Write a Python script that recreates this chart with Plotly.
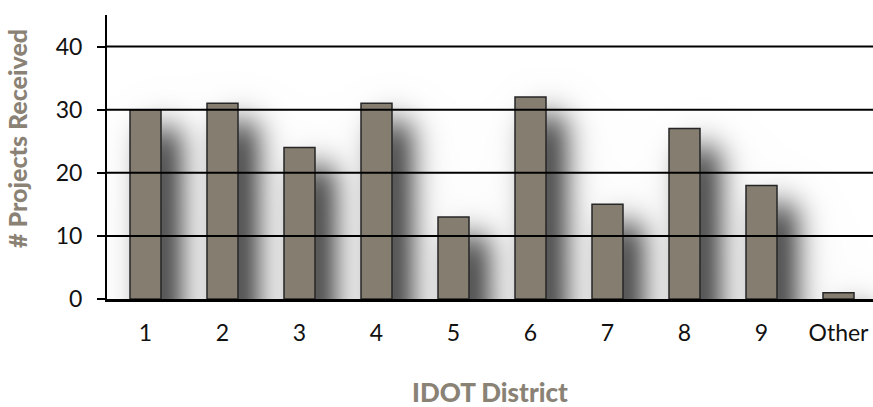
import math
import numpy as np
import plotly.graph_objects as go

# Projects received per IDOT district
districts = ["1", "2", "3", "4", "5", "6", "7", "8", "9", "Other"]
projects = [30, 31, 24, 31, 13, 32, 15, 27, 18, 1]
y_ticks = [0, 10, 20, 30, 40]

W, H = 873, 407
M_L, M_R, M_T, M_B = 107, 0, 15, 108
X_RANGE = [-0.5, 9.448]
Y_RANGE = [0, 45]
BAR_W = 0.4026

BAR_FILL = "#857d6f"
BAR_EDGE = "#262626"
TITLE_COLOR = "#8a8275"

plot_w = W - M_L - M_R
plot_h = H - M_T - M_B
ux = (X_RANGE[1] - X_RANGE[0]) / plot_w   # data units per pixel, x
uy = (Y_RANGE[1] - Y_RANGE[0]) / plot_h   # data units per pixel, y

# Soft drop shadow: each bar rectangle shifted right/down and Gaussian-blurred,
# a tight dark component plus a wide faint one (sizes in px)
SH_DX, SH_DY = 17, 19
SH_PARTS = [(15, 0.92), (38, 0.06)]   # (sigma, peak darkness)
STEP = 2                              # px per shadow grid cell

gx = np.arange(X_RANGE[0], X_RANGE[1] + ux * STEP, ux * STEP)
gy = np.arange(Y_RANGE[0], Y_RANGE[1] + uy * STEP, uy * STEP)
v_erf = np.vectorize(math.erf)


def phi(z):
    return 0.5 * (1 + v_erf(z / math.sqrt(2)))


light = np.ones((gy.size, gx.size))
for i, v in enumerate(projects):
    left = i - BAR_W / 2 + SH_DX * ux
    right = i + BAR_W / 2 + SH_DX * ux
    top = v - SH_DY * uy
    for sigma, peak in SH_PARTS:
        sx, sy = sigma * ux, sigma * uy
        hx = phi((gx - left) / sx) - phi((gx - right) / sx)
        vy = phi((top - gy) / sy)
        light *= 1 - peak * np.outer(vy, hx)
shadow = 1 - light

fig = go.Figure()
fig.add_trace(go.Heatmap(
    x=gx, y=gy, z=shadow,
    zmin=0, zmax=1, zsmooth="best",
    colorscale=[[0, "rgb(255,255,255)"], [1, "rgb(0,0,0)"]],
    showscale=False, hoverinfo="skip",
))

# horizontal grid lines, kept between the shadow and the bars
for t in y_ticks[1:]:
    fig.add_trace(go.Scatter(
        x=X_RANGE, y=[t, t], mode="lines",
        line=dict(color="black", width=2),
        hoverinfo="skip", showlegend=False,
    ))

fig.add_trace(go.Bar(
    x=list(range(len(districts))),
    y=projects,
    width=BAR_W,
    marker=dict(color=BAR_FILL, line=dict(color=BAR_EDGE, width=1.5)),
    hoverinfo="skip",
))

tick_font = dict(family="Lato", size=23, color="#111111")
y_title_font = dict(family="Lato", size=25, color=TITLE_COLOR, weight=900)
x_title_font = dict(family="Lato", size=26, color=TITLE_COLOR, weight=900)

fig.update_layout(
    width=W, height=H,
    margin=dict(l=M_L, r=M_R, t=M_T, b=M_B),
    paper_bgcolor="white", plot_bgcolor="white",
    showlegend=False,
    xaxis=dict(
        range=X_RANGE,
        tickmode="array",
        tickvals=list(range(len(districts))),
        ticktext=districts,
        tickfont=tick_font,
        ticklabelstandoff=11,
        showgrid=False, zeroline=False,
        showline=True, linecolor="black", linewidth=3,
        ticks="",
        fixedrange=True,
    ),
    yaxis=dict(
        range=Y_RANGE,
        tickmode="array",
        tickvals=y_ticks,
        tickfont=tick_font,
        ticks="outside", ticklen=8, tickwidth=2, tickcolor="black",
        ticklabelstandoff=10,
        showgrid=False, zeroline=False,
        showline=True, linecolor="black", linewidth=2,
        fixedrange=True,
    ),
    annotations=[
        dict(text="# Projects Received", textangle=-90,
             xref="paper", yref="paper",
             x=(17 - M_L) / plot_w, y=(H - M_B - 139) / plot_h,
             xanchor="center", yanchor="middle", showarrow=False,
             font=y_title_font),
        dict(text="IDOT District",
             xref="paper", yref="paper",
             x=0.5, y=(H - M_B - 392) / plot_h,
             xanchor="center", yanchor="middle", showarrow=False,
             font=x_title_font),
    ],
)

fig.write_html("out.html")
